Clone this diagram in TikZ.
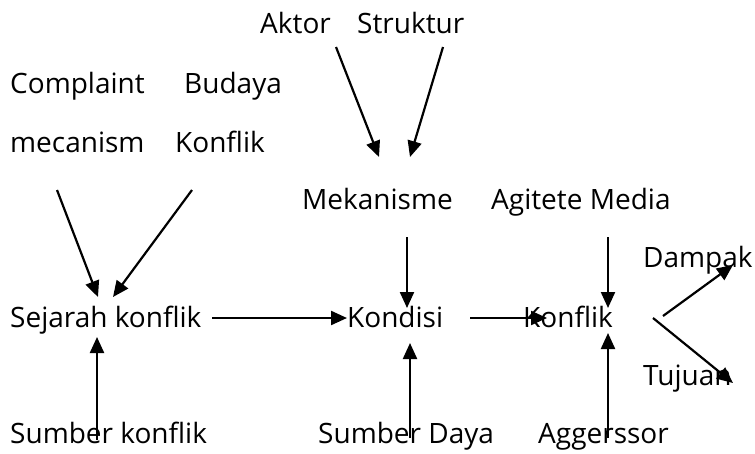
\documentclass[tikz,border=0pt]{standalone}
\usepackage{fontspec}
\setmainfont{Open Sans}
\usetikzlibrary{arrows.meta}

\begin{document}
\begin{tikzpicture}[x=1pt,y=-1pt]

\tikzstyle{textnode} = [inner sep=0pt, anchor=base west, font=\fontsize{28}{30}\selectfont]
\tikzstyle{myarrow} = [line width=2.2pt, -{Triangle[length=16pt,width=14pt]}]

\useasboundingbox (0,0) rectangle (755,453);

% top rows
\node [textnode] (aktor) at (260,33) {Aktor};
\node [textnode] (struktur) at (357,33) {Struktur};
\node [textnode] (complaint) at (10,93) {Complaint};
\node [textnode] (budaya) at (184,93) {Budaya};
\node [textnode] (mecanism) at (10,152) {mecanism};
\node [textnode] (konflikA) at (175,152) {Konflik};
\node [textnode] (mekanisme) at (302,209) {Mekanisme};
\node [textnode] (agitete) at (491,209) {Agitete Media};
\node [textnode] (dampak) at (643,267) {Dampak};

% main row
\node [textnode] (sejarah) at (10,327) {Sejarah konflik};
\node [textnode] (kondisi) at (347,327) {Kondisi};
\node [textnode] (konflik) at (523,327) {Konflik};
\node [textnode] (tujuan) at (643,385) {Tujuan};

% bottom row
\node [textnode] (sumberk) at (10,443) {Sumber konflik};
\node [textnode] (sumberd) at (318,443) {Sumber Daya};
\node [textnode] (aggerssor) at (538,443) {Aggerssor};

\draw [myarrow] ([shift={(76,14)}]aktor.base west) -- ([shift={(77,-52)}]mekanisme.base west);
\draw [myarrow] ([shift={(86,14)}]struktur.base west) -- ([shift={(108,-52)}]mekanisme.base west);
\draw [myarrow] ([shift={(47,38)}]mecanism.base west) -- ([shift={(88,-30)}]sejarah.base west);
\draw [myarrow] ([shift={(17,38)}]konflikA.base west) -- ([shift={(103,-30)}]sejarah.base west);
\draw [myarrow] ([shift={(202,-9)}]sejarah.base west) -- ([shift={(0,-9)}]kondisi.base west);
\draw [myarrow] ([shift={(87,-3)}]sumberk.base west) -- ([shift={(87,10)}]sejarah.base west);
\draw [myarrow] ([shift={(105,28)}]mekanisme.base west) -- ([shift={(60,-19)}]kondisi.base west);
\draw [myarrow] ([shift={(117,28)}]agitete.base west) -- ([shift={(85,-19)}]konflik.base west);
\draw [myarrow] ([shift={(123,-9)}]kondisi.base west) -- ([shift={(24,-9)}]konflik.base west);
\draw [myarrow] ([shift={(92,-5)}]sumberd.base west) -- ([shift={(63,16)}]kondisi.base west);
\draw [myarrow] ([shift={(70,-5)}]aggerssor.base west) -- ([shift={(85,6)}]konflik.base west);
\draw [myarrow] ([shift={(140,-11)}]konflik.base west) -- ([shift={(90,-2)}]dampak.base west);
\draw [myarrow] ([shift={(130,-9)}]konflik.base west) -- ([shift={(90,-2)}]tujuan.base west);

\end{tikzpicture}
\end{document}
